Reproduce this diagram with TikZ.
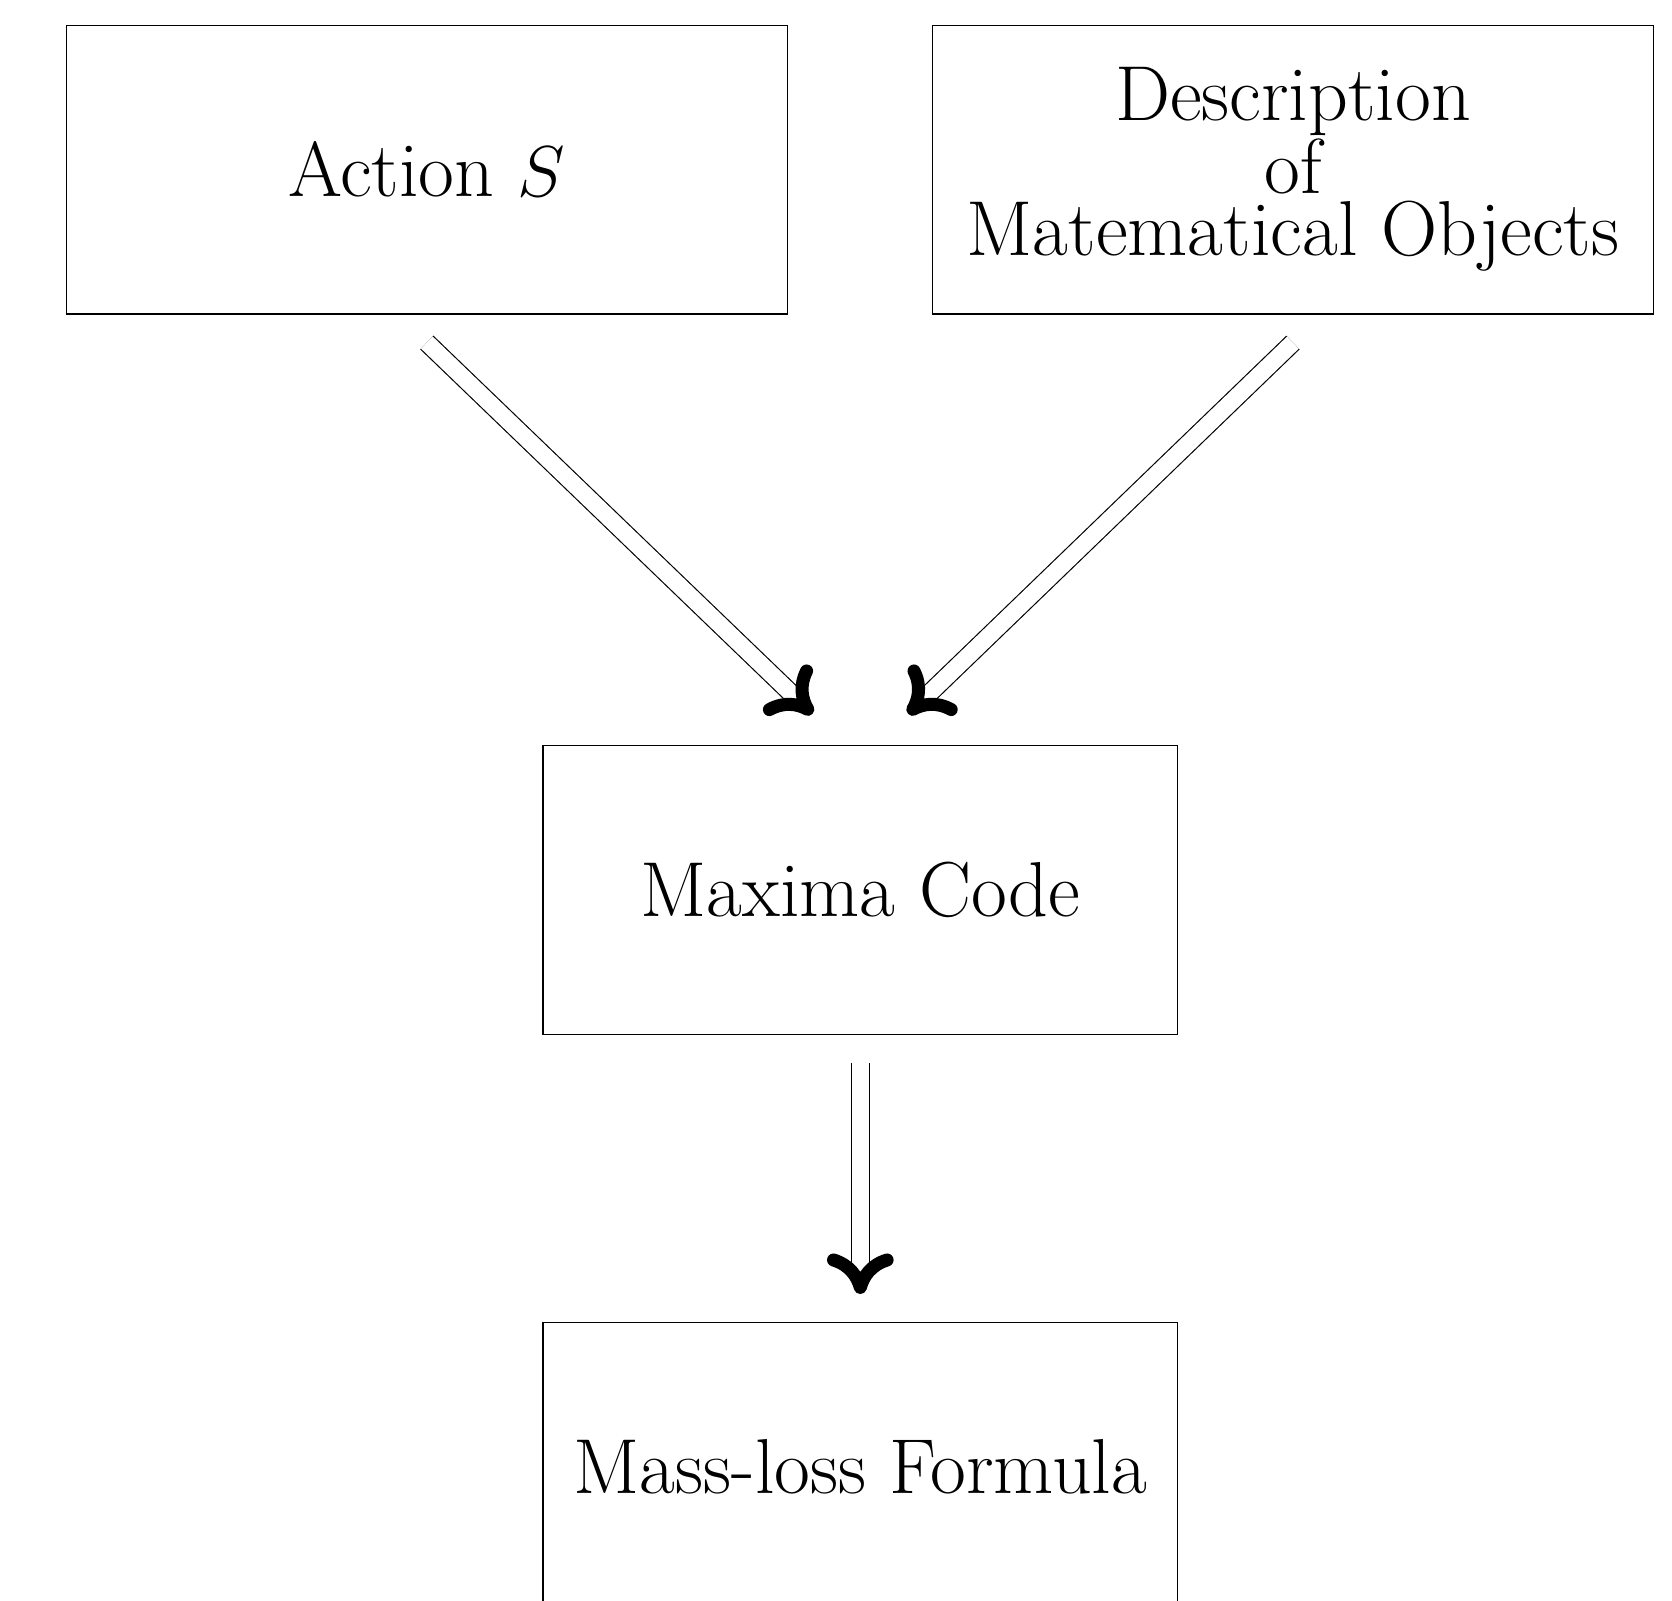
\documentclass[tikz,border=0pt]{standalone}
\usepackage{amsmath,amssymb}
\usepackage{tikz}
\usetikzlibrary{arrows.meta,positioning,calc}
\tikzset{
  widebox/.style={draw,minimum width=8.75cm,minimum height=3.5cm,
                  align=center,font=\fontsize{26.9}{21.5}\selectfont},
  procbox/.style={draw,minimum width=7.7cm,minimum height=3.5cm,
                  align=center,font=\fontsize{26.9}{21.5}\selectfont},
  dblarr/.style={-{To[length=14pt,width=23pt,line width=4.5pt,round]},
                 double,double distance=5.8pt,line width=0.4pt}
}
\begin{document}
\begin{tikzpicture}[x=1cm,y=1cm]
    \path[use as bounding box] (0,0) rectangle (20.29,-19.42);

    \node[widebox] (action) at (5.18,-2.06) {Action \(S\)};
    \node[widebox] (descr) at (15.69,-2.06)
      {Description\\of\\Matematical Objects};
    \node[procbox] (maxima) at (10.44,-10.80) {Maxima Code};
    \node[procbox] (massloss) at (10.44,-17.80) {Mass-loss Formula};

    \draw[dblarr] ([yshift=-0.34cm]action.south)
      -- ([xshift=-0.58cm,yshift=0.38cm]maxima.north);
    \draw[dblarr] ([yshift=-0.34cm]descr.south)
      -- ([xshift=0.58cm,yshift=0.38cm]maxima.north);
    \draw[dblarr] ([yshift=-0.34cm]maxima.south)
      -- ([yshift=0.34cm]massloss.north);
  \end{tikzpicture}
\end{document}
